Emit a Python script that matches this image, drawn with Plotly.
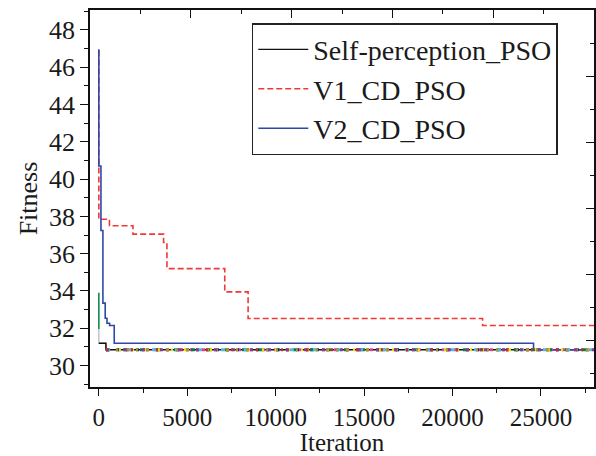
import plotly.graph_objects as go

# ---- data ----
v1_iter = [0, 0, 600, 1930, 3660, 3850, 7120, 8440, 21700, 28000]
v1_fit = [46.9, 37.85, 37.5, 37.05, 36.6, 35.2, 33.95, 32.52, 32.15, 32.15]

v2_iter = [0, 0, 120, 230, 360, 460, 610, 870, 24580, 28000]
v2_fit = [46.97, 40.7, 37.24, 33.35, 32.54, 32.27, 32.15, 31.2, 30.85, 30.85]

sp_iter = [0, 400, 400, 28000]
sp_fit = [31.2, 31.2, 30.85, 30.85]

# other runs visible near the start
green_iter = [0, 0]
green_fit = [33.9, 31.95]
gray_iter = [0, 0, 400]
gray_fit = [31.95, 31.2, 31.2]
orange_iter = [400, 400]
orange_fit = [31.2, 30.85]

# runs converging to the same final fitness (multicoloured band)
band_iter = [400, 28000]
band_fit = [30.85, 30.85]
band_colors = ["#e0409a", "#0a7a4a", "#1c2a66", "#f2e600", "#f08a1c", "#56b8e0", "#9a9a40", "#8a3aa0", "#c03030"]
band_dash = ["3px,9px", "4px,13px", "3px,7px", "2px,11px", "3px,17px", "4px,19px", "2px,8px", "3px,15px", "2px,23px"]

x_ticks = [0, 5000, 10000, 15000, 20000, 25000]
x_labels = ["0", "5000", "10000", "15000", "20000", "25000"]
y_ticks = [30, 32, 34, 36, 38, 40, 42, 44, 46, 48]
y_labels = [str(v) for v in y_ticks]

FONT = "Liberation Serif, Times New Roman, serif"

fig = go.Figure()

fig.add_trace(go.Scatter(x=green_iter, y=green_fit, mode="lines", line=dict(color="#108a50", width=1.6),
                         showlegend=False, hoverinfo="skip"))
fig.add_trace(go.Scatter(x=gray_iter, y=gray_fit, mode="lines", line=dict(color="#c8c8c8", width=1.6),
                         showlegend=False, hoverinfo="skip"))
fig.add_trace(go.Scatter(x=orange_iter, y=orange_fit, mode="lines", line=dict(color="#f08a1c", width=1.6),
                         showlegend=False, hoverinfo="skip"))

fig.add_trace(go.Scatter(x=sp_iter, y=sp_fit, mode="lines", name="Self-perception_PSO",
                         line=dict(color="#111111", width=1.4)))
fig.add_trace(go.Scatter(x=v1_iter, y=v1_fit, mode="lines", name="V1_CD_PSO", line_shape="hv",
                         line=dict(color="#f03838", width=1.6, dash="6px,3px")))
fig.add_trace(go.Scatter(x=v2_iter, y=v2_fit, mode="lines", name="V2_CD_PSO", line_shape="hv",
                         line=dict(color="#2f47a8", width=1.6)))

for c, d in zip(band_colors, band_dash):
    fig.add_trace(go.Scatter(x=band_iter, y=band_fit, mode="lines", line=dict(color=c, width=3, dash=d),
                             showlegend=False, hoverinfo="skip"))

# dummy trace to create top/right decorative axes
fig.add_trace(go.Scatter(x=[0, 5], y=[-0.7, 5], xaxis="x2", yaxis="y2", mode="lines",
                         line=dict(width=0, color="rgba(0,0,0,0)"), showlegend=False, hoverinfo="skip"))

axis_common = dict(showgrid=False, zeroline=False, showline=True, linecolor="#111111", linewidth=1.5,
                   tickcolor="#111111", tickwidth=1.3, automargin=False)

fig.update_layout(
    width=596, height=456, autosize=False,
    margin=dict(l=90, r=2, t=10, b=69),
    paper_bgcolor="white", plot_bgcolor="white",
    font=dict(family=FONT, size=26, color="#1a1a1a"),
    xaxis=dict(range=[-500, 28000], tickmode="array", tickvals=x_ticks, ticktext=x_labels,
               ticks="outside", ticklen=7,
               minor=dict(dtick=2500, ticks="outside", ticklen=4, tickcolor="#111111", tickwidth=1.3),
               title=dict(text="Iteration", standoff=3, font=dict(family=FONT, size=25)),
               tickfont=dict(family=FONT, size=25), **axis_common),
    yaxis=dict(range=[28.85, 49.07], tickmode="array", tickvals=y_ticks, ticktext=y_labels,
               ticks="outside", ticklen=8,
               minor=dict(dtick=1, tick0=0, ticks="outside", ticklen=4, tickcolor="#111111", tickwidth=1.3),
               title=dict(text="Fitness", standoff=4, font=dict(family=FONT, size=26)),
               tickfont=dict(family=FONT, size=26), **axis_common),
    xaxis2=dict(overlaying="x", side="top", range=[0, 5], dtick=1, tick0=0, ticks="inside", ticklen=8,
                showticklabels=False, minor=dict(dtick=0.5, ticks="inside", ticklen=4, tickcolor="#111111"),
                **axis_common),
    yaxis2=dict(overlaying="y", side="right", range=[-0.7, 5], dtick=1, tick0=0, ticks="inside", ticklen=8,
                showticklabels=False, minor=dict(dtick=0.5, ticks="inside", ticklen=4, tickcolor="#111111"),
                **axis_common),
    legend=dict(x=0.321, y=0.965, xanchor="left", yanchor="top", bgcolor="white",
                bordercolor="#222222", borderwidth=1.5, font=dict(family=FONT, size=28),
                itemwidth=50, tracegroupgap=0),
    showlegend=True,
)

fig.write_html(
    "out.html",
    config={"responsive": False, "displayModeBar": False},
    post_script="document.body.style.margin='0';document.body.style.overflow='hidden';",
)
